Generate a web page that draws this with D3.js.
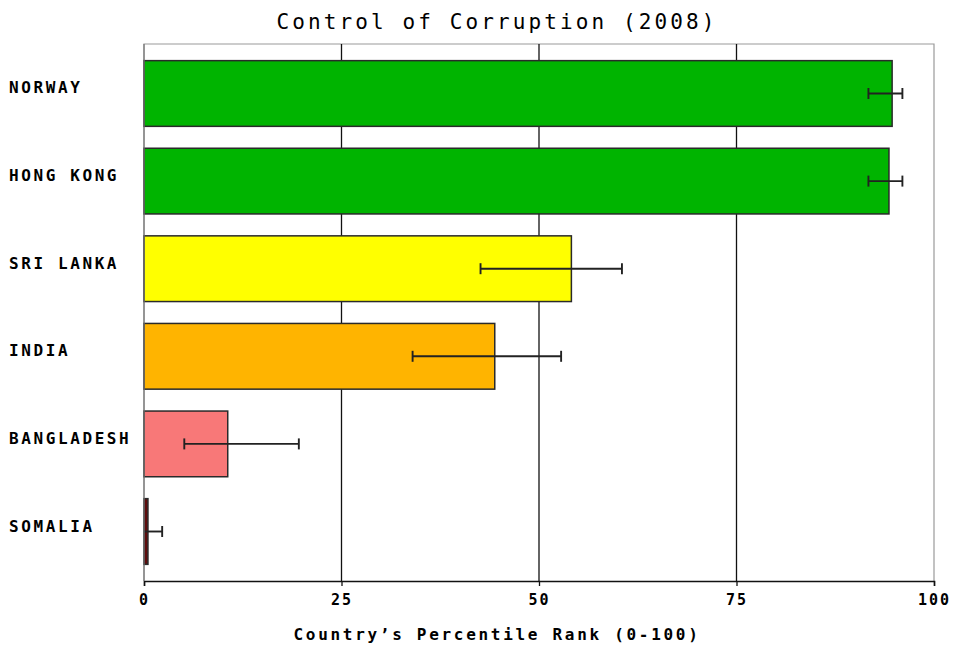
<!DOCTYPE html>
<html>
<head>
<meta charset="utf-8">
<script src="https://cdn.jsdelivr.net/npm/d3@7"></script>
<style>
  html, body { margin: 0; padding: 0; background: #fff; }
  svg { display: block; }
  .mono { font-family: "DejaVu Sans Mono", "Liberation Mono", monospace; }
</style>
</head>
<body>
<svg id="chart" width="956" height="646"></svg>
<script>
// Control of Corruption, 2008 — percentile rank with margin of error
const countries = ["NORWAY", "HONG KONG", "SRI LANKA", "INDIA", "BANGLADESH", "SOMALIA"];
const rank      = [94.7, 94.3, 54.1, 44.4, 10.6, 0.5];
const lower     = [91.7, 91.7, 42.6, 34.0, 5.1, 0.0];
const upper     = [96.0, 96.0, 60.5, 52.8, 19.6, 2.3];
const barColors = ["#00b400", "#00b400", "#ffff00", "#ffb400", "#f87878", "#5c0c0c"];
const xTicks    = [0, 25, 50, 75, 100];
const titleText = "Control of Corruption (2008)";
const xTitle    = "Country\u2019s Percentile Rank (0-100)";

const rows = countries.map((c, i) => ({
  name: c, value: rank[i], lo: lower[i], hi: upper[i], color: barColors[i]
}));

const svg = d3.select("#chart");
const plot = { left: 144, right: 934, top: 44, bottom: 581 };

const x = d3.scaleLinear().domain([0, 100]).range([plot.left, plot.right]);
const y = d3.scaleBand().domain(countries).range([plot.top, plot.bottom])
  .paddingInner(0.25).paddingOuter(0.19);

// frame (top and right edges)
svg.append("path")
  .attr("d", `M${plot.left},${plot.bottom} V${plot.top} H${plot.right} V${plot.bottom}`)
  .attr("fill", "none").attr("stroke", "#9a9a9a").attr("stroke-width", 1.2);

// vertical grid lines
svg.append("g").selectAll("line")
  .data(xTicks.filter(t => t > 0 && t < 100)).join("line")
  .attr("x1", d => x(d)).attr("x2", d => x(d))
  .attr("y1", plot.top).attr("y2", plot.bottom)
  .attr("stroke", "#111").attr("stroke-width", 1.3);

// bars
svg.append("g").selectAll("rect").data(rows).join("rect")
  .attr("x", x(0))
  .attr("y", d => y(d.name))
  .attr("width", d => Math.max(0, x(d.value) - x(0)))
  .attr("height", y.bandwidth())
  .attr("fill", d => d.color)
  .attr("stroke", "#2a2a2a").attr("stroke-width", 1.5);

// error bars
const eb = svg.append("g").attr("stroke", "#222").attr("stroke-width", 1.9);
rows.forEach(d => {
  const cy = y(d.name) + y.bandwidth() / 2;
  eb.append("line").attr("x1", x(d.lo)).attr("x2", x(d.hi)).attr("y1", cy).attr("y2", cy);
  if (d.lo > 0) eb.append("line").attr("x1", x(d.lo)).attr("x2", x(d.lo)).attr("y1", cy - 5.5).attr("y2", cy + 5.5);
  eb.append("line").attr("x1", x(d.hi)).attr("x2", x(d.hi)).attr("y1", cy - 5.5).attr("y2", cy + 5.5);
});

// x axis
const xAxis = svg.append("g")
  .attr("transform", `translate(0,${plot.bottom})`)
  .call(d3.axisBottom(x).tickValues(xTicks).tickSize(5).tickPadding(8).tickFormat(d3.format("d")));
xAxis.select(".domain").attr("stroke", "#111").attr("stroke-width", 1.5);
xAxis.selectAll(".tick line").attr("stroke", "#111").attr("stroke-width", 1.3);
xAxis.selectAll(".tick text")
  .style("font-family", "'DejaVu Sans Mono', 'Liberation Mono', monospace")
  .style("font-size", "15px").style("font-weight", "bold")
  .style("letter-spacing", "2px")
  .attr("fill", "#000");

// left axis line
svg.append("line").attr("x1", plot.left).attr("x2", plot.left)
  .attr("y1", plot.top).attr("y2", plot.bottom)
  .attr("stroke", "#777").attr("stroke-width", 1.2);

// category labels
svg.append("g").selectAll("text").data(rows).join("text")
  .attr("class", "mono")
  .attr("x", 9)
  .attr("y", d => y(d.name) + y.bandwidth() / 2)
  .attr("font-size", 16).attr("font-weight", "bold")
  .attr("letter-spacing", "2.6px")
  .attr("fill", "#000")
  .text(d => d.name);

// title
svg.append("text").attr("class", "mono")
  .attr("x", 497).attr("y", 29)
  .attr("text-anchor", "middle")
  .attr("font-size", 21).attr("letter-spacing", "3.1px")
  .attr("fill", "#000")
  .text(titleText);

// x axis title
svg.append("text").attr("class", "mono")
  .attr("x", 497).attr("y", 640)
  .attr("text-anchor", "middle")
  .attr("font-size", 16).attr("font-weight", "bold").attr("letter-spacing", "2.7px")
  .attr("fill", "#000")
  .text(xTitle);
</script>
</body>
</html>
